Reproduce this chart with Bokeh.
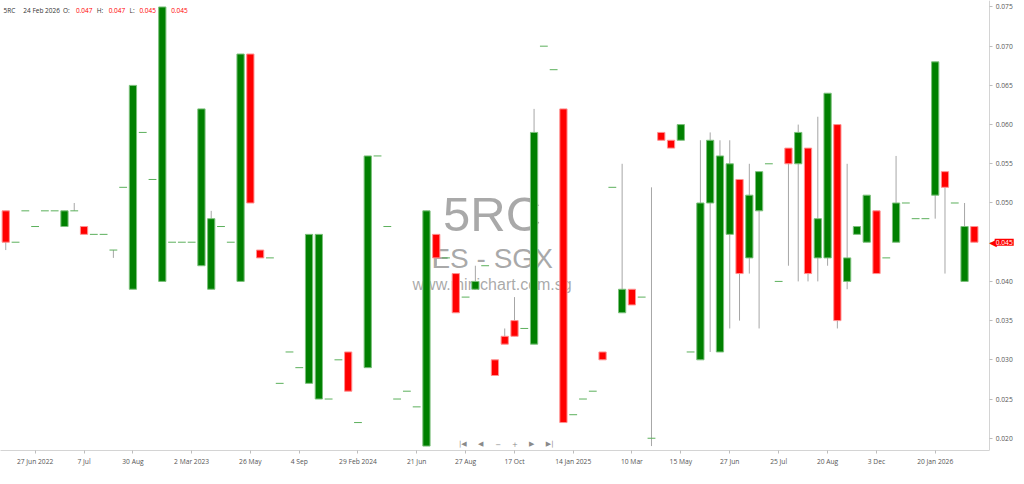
from bokeh.plotting import figure
from bokeh.models import ColumnDataSource, FixedTicker, Range1d, Label, NumeralTickFormatter
from bokeh.embed import file_html
from bokeh.resources import INLINE

# ---------------- data ----------------
opens = [0.049, 0.045, 0.049, 0.047, 0.049, 0.049, 0.047, 0.049, 0.047, 0.046,
         0.046, 0.044, 0.052, 0.039, 0.059, 0.053, 0.040, 0.045, 0.045, 0.045,
         0.042, 0.039, 0.047, 0.045, 0.040, 0.069, 0.044, 0.043, 0.027, 0.031,
         0.029, 0.027, 0.025, 0.025, 0.030, 0.031, 0.022, 0.029, 0.056, 0.047,
         0.025, 0.026, 0.024, 0.019, 0.046, 0.043, 0.041, 0.038, 0.039, 0.042,
         0.030, 0.033, 0.035, 0.034, 0.032, 0.070, 0.067, 0.062, 0.023, 0.025,
         0.026, 0.031, 0.052, 0.036, 0.039, 0.038, 0.020, 0.059, 0.058, 0.058,
         0.031, 0.030, 0.050, 0.031, 0.046, 0.053, 0.043, 0.049, 0.055, 0.040,
         0.057, 0.055, 0.057, 0.043, 0.043, 0.060, 0.040, 0.046, 0.045, 0.049,
         0.043, 0.045, 0.050, 0.048, 0.048, 0.051, 0.054, 0.050, 0.040, 0.047]
highs = [0.049, 0.045, 0.049, 0.047, 0.049, 0.049, 0.049, 0.050, 0.047, 0.046,
         0.046, 0.044, 0.052, 0.065, 0.059, 0.053, 0.075, 0.045, 0.045, 0.045,
         0.062, 0.049, 0.047, 0.045, 0.069, 0.069, 0.044, 0.043, 0.027, 0.031,
         0.029, 0.046, 0.046, 0.025, 0.030, 0.031, 0.022, 0.056, 0.056, 0.047,
         0.025, 0.026, 0.024, 0.049, 0.046, 0.043, 0.041, 0.038, 0.042, 0.042,
         0.030, 0.034, 0.038, 0.034, 0.062, 0.070, 0.067, 0.062, 0.023, 0.025,
         0.026, 0.031, 0.052, 0.055, 0.039, 0.038, 0.052, 0.059, 0.058, 0.060,
         0.031, 0.058, 0.059, 0.058, 0.058, 0.053, 0.055, 0.054, 0.055, 0.040,
         0.057, 0.060, 0.057, 0.061, 0.064, 0.060, 0.055, 0.047, 0.051, 0.049,
         0.043, 0.056, 0.050, 0.048, 0.048, 0.068, 0.054, 0.050, 0.050, 0.047]
lows = [0.044, 0.045, 0.049, 0.047, 0.049, 0.049, 0.047, 0.049, 0.046, 0.046,
        0.046, 0.043, 0.052, 0.039, 0.059, 0.053, 0.040, 0.045, 0.045, 0.045,
        0.042, 0.039, 0.047, 0.045, 0.040, 0.050, 0.043, 0.043, 0.027, 0.031,
        0.029, 0.027, 0.025, 0.025, 0.030, 0.026, 0.022, 0.029, 0.056, 0.047,
        0.025, 0.026, 0.024, 0.019, 0.042, 0.043, 0.036, 0.038, 0.039, 0.042,
        0.028, 0.032, 0.033, 0.034, 0.032, 0.070, 0.067, 0.022, 0.023, 0.025,
        0.026, 0.030, 0.052, 0.036, 0.037, 0.038, 0.019, 0.058, 0.057, 0.058,
        0.031, 0.030, 0.031, 0.031, 0.034, 0.035, 0.041, 0.034, 0.055, 0.040,
        0.042, 0.040, 0.040, 0.040, 0.042, 0.034, 0.039, 0.046, 0.045, 0.041,
        0.043, 0.045, 0.050, 0.048, 0.048, 0.048, 0.041, 0.050, 0.040, 0.045]
closes = [0.045, 0.045, 0.049, 0.047, 0.049, 0.049, 0.049, 0.049, 0.046, 0.046,
          0.046, 0.044, 0.052, 0.065, 0.059, 0.053, 0.075, 0.045, 0.045, 0.045,
          0.062, 0.048, 0.047, 0.045, 0.069, 0.050, 0.043, 0.043, 0.027, 0.031,
          0.029, 0.046, 0.046, 0.025, 0.030, 0.026, 0.022, 0.056, 0.056, 0.047,
          0.025, 0.026, 0.024, 0.049, 0.043, 0.043, 0.036, 0.038, 0.040, 0.042,
          0.028, 0.032, 0.033, 0.034, 0.059, 0.070, 0.067, 0.022, 0.023, 0.025,
          0.026, 0.030, 0.052, 0.039, 0.037, 0.038, 0.020, 0.058, 0.057, 0.060,
          0.031, 0.050, 0.058, 0.056, 0.055, 0.041, 0.051, 0.054, 0.055, 0.040,
          0.055, 0.059, 0.041, 0.048, 0.064, 0.035, 0.043, 0.047, 0.051, 0.041,
          0.043, 0.050, 0.050, 0.048, 0.048, 0.068, 0.052, 0.050, 0.047, 0.045]

tick_index = [3, 8, 13, 19, 25, 30, 36, 42, 47, 52, 58, 64, 69, 74, 79, 84, 89, 95]
tick_labels = ["27 Jun 2022", "7 Jul", "30 Aug", "2 Mar 2023", "26 May", "4 Sep",
               "29 Feb 2024", "21 Jun", "27 Aug", "17 Oct", "14 Jan 2025", "10 Mar",
               "15 May", "27 Jun", "25 Jul", "20 Aug", "3 Dec", "20 Jan 2026"]
price_ticks = [0.020, 0.025, 0.030, 0.035, 0.040, 0.045, 0.050, 0.055, 0.060, 0.065, 0.070, 0.075]

symbol = "5RC"
last_date = "24 Feb 2026"
sector = "ES - SGX"
site = "www.minichart.com.sg"

# ---------------- styling ----------------
UP = "#008000"
DOWN = "#ff0000"
UP_EDGE = "#7cc07c"
DOWN_EDGE = "#ff9090"
DASH = "#5cb05c"
WICK = "#a6a6a6"
FONT = "Open Sans"

X0, X1 = -0.5375, 100.47
Y0, Y1 = 0.018436, 0.075825


def dx(px):
    return X0 + px / 996.0 * (X1 - X0)


def dy(py):
    return Y1 - py / 466.0 * (Y1 - Y0)


n = len(closes)
idx = list(range(n))

body = dict(x=[], top=[], bottom=[], fill=[], edge=[])
wick = dict(x=[], lo=[], hi=[])
dash = dict(x0=[], x1=[], y=[])
for i in idx:
    o, h, l, c = opens[i], highs[i], lows[i], closes[i]
    if h > l:
        wick["x"].append(i)
        wick["lo"].append(l)
        wick["hi"].append(h)
    if abs(o - c) < 1e-9:
        dash["x0"].append(i - 0.4)
        dash["x1"].append(i + 0.4)
        dash["y"].append(c)
    else:
        body["x"].append(i)
        body["top"].append(max(o, c))
        body["bottom"].append(min(o, c))
        body["fill"].append(UP if c > o else DOWN)
        body["edge"].append(UP_EDGE if c > o else DOWN_EDGE)

# the frame spans the whole width; the price axis is drawn at a fixed spot inside it
X_AXIS = dx(997)
p = figure(width=1016, height=468, x_range=Range1d(X0, dx(1024)), y_range=Range1d(Y0, Y1),
           toolbar_location=None, output_backend="svg", y_axis_location="right",
           min_border_left=0, min_border_top=0, min_border_right=0, min_border_bottom=0,
           outline_line_color=None, background_fill_color="white", border_fill_color="white")
p.xgrid.visible = False
p.ygrid.visible = False

# watermark (under the candles)
for txt, py, size in [(symbol, 221, "49px"), (sector, 267, "28px"), (site, 294, "16px")]:
    p.add_layout(Label(x=dx(495.5), y=dy(py), text=txt, text_font="Liberation Sans",
                       text_font_size=size, text_color="#9a9a9a", text_alpha=0.85,
                       text_align="center", text_baseline="alphabetic", level="underlay"))

# header (under the candles too)
o_l, h_l, l_l, c_l = opens[-1], highs[-1], lows[-1], closes[-1]
header = [(symbol, 3, "#333333"), (last_date, 23, "#333333"), ("O:", 63, "#333333"),
          ("%.3f" % o_l, 76, DOWN), ("H:", 97, "#333333"), ("%.3f" % h_l, 109, DOWN),
          ("L:", 130, "#333333"), ("%.3f" % l_l, 140, DOWN), ("C:", 160, "#333333"),
          ("%.3f" % c_l, 172, DOWN)]
for txt, px, col in header:
    p.add_layout(Label(x=dx(px), y=dy(10), text=txt, text_font=FONT, text_font_size="6.5px",
                       text_color=col, text_align="left", text_baseline="middle", level="underlay"))

# navigation glyphs
for txt, px in [("|◀", 466), ("◀", 484), ("−", 501.5), ("+", 518.5), ("▶", 535.5), ("▶|", 553.5)]:
    p.add_layout(Label(x=dx(px), y=dy(459), text=txt, text_font="DejaVu Sans", text_font_size="7px",
                       text_color="#8a8a8a", text_align="center", text_baseline="middle", level="underlay"))

p.segment(x0="x", y0="lo", x1="x", y1="hi", source=ColumnDataSource(wick), line_color=WICK, line_width=1)
p.vbar(x="x", width=0.74, top="top", bottom="bottom", source=ColumnDataSource(body),
       fill_color="fill", line_color="edge", line_width=1)
p.segment(x0="x0", y0="y", x1="x1", y1="y", source=ColumnDataSource(dash), line_color=DASH, line_width=1)

# axes
yax = p.yaxis[0]
yax.ticker = FixedTicker(ticks=price_ticks)
yax.formatter = NumeralTickFormatter(format="0.000")
yax.fixed_location = X_AXIS
xax = p.xaxis[0]
xax.ticker = FixedTicker(ticks=tick_index)
xax.major_label_overrides = {float(t): lab for t, lab in zip(tick_index, tick_labels)}
xax.bounds = (X0, X_AXIS)
for ax in (xax, yax):
    ax.axis_line_color = "#d4d4d4"
    ax.major_tick_line_color = "#bdbdbd"
    ax.major_tick_in = 0
    ax.major_tick_out = 3
    ax.minor_tick_line_color = None
    ax.major_label_text_font = FONT
    ax.major_label_text_font_size = "6.7px"
    ax.major_label_text_color = "#555555"
    ax.major_label_standoff = 3

# last price tag on the price axis
p.add_layout(Label(x=dx(996.5), y=closes[-1], text="◀", text_font="DejaVu Sans", text_font_size="10px",
                   text_color=DOWN, text_align="left", text_baseline="middle"))
p.add_layout(Label(x=dx(1002), y=closes[-1], text="%.3f" % closes[-1], text_font=FONT, text_font_size="6.7px",
                   text_color="white", background_fill_color=DOWN, text_align="left",
                   text_baseline="middle", padding=1))

open("out.html", "w").write(file_html(p, INLINE))
